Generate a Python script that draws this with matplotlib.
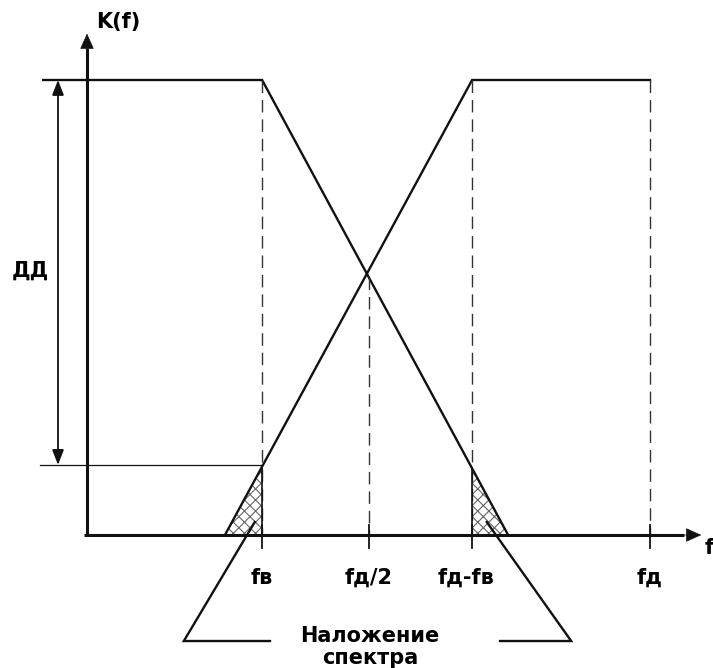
import matplotlib
matplotlib.use("Agg")
import matplotlib.pyplot as plt
import numpy as np

# ---- data (normalised: f_d = 1, K_max = 1) ----
f_v = 0.311          # upper frequency of the signal spectrum
f_half = 0.5         # f_d / 2
f_d_minus_v = 0.684  # f_d - f_v
f_d = 1.0            # sampling frequency
K_max = 1.0
fall_zero = 0.748    # where the falling slope reaches zero
rise_zero = 0.245    # where the mirrored rising slope starts
K_dd = 0.154         # level defining dynamic range
tick_labels = ["fв", "fд/2", "fд-fв", "fд"]
tick_pos = [f_v, f_half, f_d_minus_v, f_d]

def k_fall(f):
    return K_max * (fall_zero - f) / (fall_zero - f_v)

def k_rise(f):
    return K_max * (f - rise_zero) / (f_d_minus_v - rise_zero)

plt.rcParams["hatch.linewidth"] = 0.8

fig = plt.figure(figsize=(7.13, 6.68), dpi=100)
ax = fig.add_axes([0, 0, 1, 1])
ax.set_xlim(-87 / 563, 626 / 563)
ax.set_ylim(-133 / 455, 535 / 455)
ax.axis("off")

lw_ax = 2.2
lw = 1.7
black = "#111111"
fs = 15

# axes with arrows
ax.plot([-0.005, 1.06], [0, 0], color=black, lw=lw_ax, solid_capstyle="butt")
ax.plot([0, 0], [-0.002, 1.07], color=black, lw=lw_ax, solid_capstyle="butt")
ax.annotate("", xy=(1.096, 0), xytext=(1.05, 0),
            arrowprops=dict(arrowstyle="-|>,head_length=1.0,head_width=0.45", color=black, lw=0.5))
ax.annotate("", xy=(0, 1.108), xytext=(0, 1.06),
            arrowprops=dict(arrowstyle="-|>,head_length=1.0,head_width=0.45", color=black, lw=0.5))

# hatched aliasing triangles
hl = [rise_zero, f_v, f_v]
hk = [0, 0, k_rise(f_v)]
ax.fill(hl, hk, facecolor="white", edgecolor="#666666", hatch="xxx", lw=0)
hr = [f_d_minus_v, fall_zero, f_d_minus_v]
hrk = [0, 0, k_fall(f_d_minus_v)]
ax.fill(hr, hrk, facecolor="white", edgecolor="#666666", hatch="xxx", lw=0)

# spectrum (baseband)
ax.plot([-0.078, f_v, fall_zero], [K_max, K_max, 0], color=black, lw=lw,
        solid_joinstyle="miter")
# mirrored spectrum
ax.plot([rise_zero, f_d_minus_v, f_d], [0, K_max, K_max], color=black, lw=lw,
        solid_joinstyle="miter")

# dashed verticals
cross_k = k_fall(f_half)
for f0, k0 in [(f_v, K_max), (f_half, cross_k), (f_d_minus_v, K_max), (f_d, K_max)]:
    ax.plot([f0, f0], [k0, 0], color="#333333", lw=1.0, dashes=(9, 5))
# ticks
for f0 in tick_pos:
    ax.plot([f0, f0], [0.022, -0.029], color=black, lw=1.3)
# vertical edges of hatched triangles
ax.plot([f_v, f_v], [0, k_rise(f_v)], color=black, lw=1.2)
ax.plot([f_d_minus_v, f_d_minus_v], [0, k_fall(f_d_minus_v)], color=black, lw=1.2)

# dynamic range arrow
ax.plot([-0.083, f_v], [K_dd, K_dd], color=black, lw=0.9)
ax.annotate("", xy=(-0.0515, K_max), xytext=(-0.0515, K_dd),
            arrowprops=dict(arrowstyle="<|-|>,head_length=0.9,head_width=0.35",
                            color=black, lw=1.3, shrinkA=0, shrinkB=0))
ax.text(-0.1012, 0.582, "ДД", fontsize=fs, fontweight="bold", ha="center", va="center")

# pointer lines to label
yb = -0.233
ax.plot([0.325, 0.172, 0.298], [yb, yb, 0.0286], color=black, lw=lw,
        solid_joinstyle="miter")
ax.plot([0.7336, 0.860, 0.710], [yb, yb, 0.0286], color=black, lw=lw,
        solid_joinstyle="miter")

# labels
ax.text(0.016, 1.127, "K(f)", fontsize=fs, fontweight="bold", ha="left", va="center")
ax.text(1.097, -0.029, "f", fontsize=fs, fontweight="bold", ha="left", va="center")
for f0, lab in zip(tick_pos, tick_labels):
    ax.text(f0 - (0.01 if lab == "fд-fв" else 0.0), -0.0945, lab, fontsize=fs,
            fontweight="bold", ha="center", va="center")
ax.text(0.503, -0.221, "Наложение", fontsize=fs, fontweight="bold", ha="center", va="center")
ax.text(0.503, -0.271, "спектра", fontsize=fs, fontweight="bold", ha="center", va="center")

fig.savefig("out.png", dpi=100)
